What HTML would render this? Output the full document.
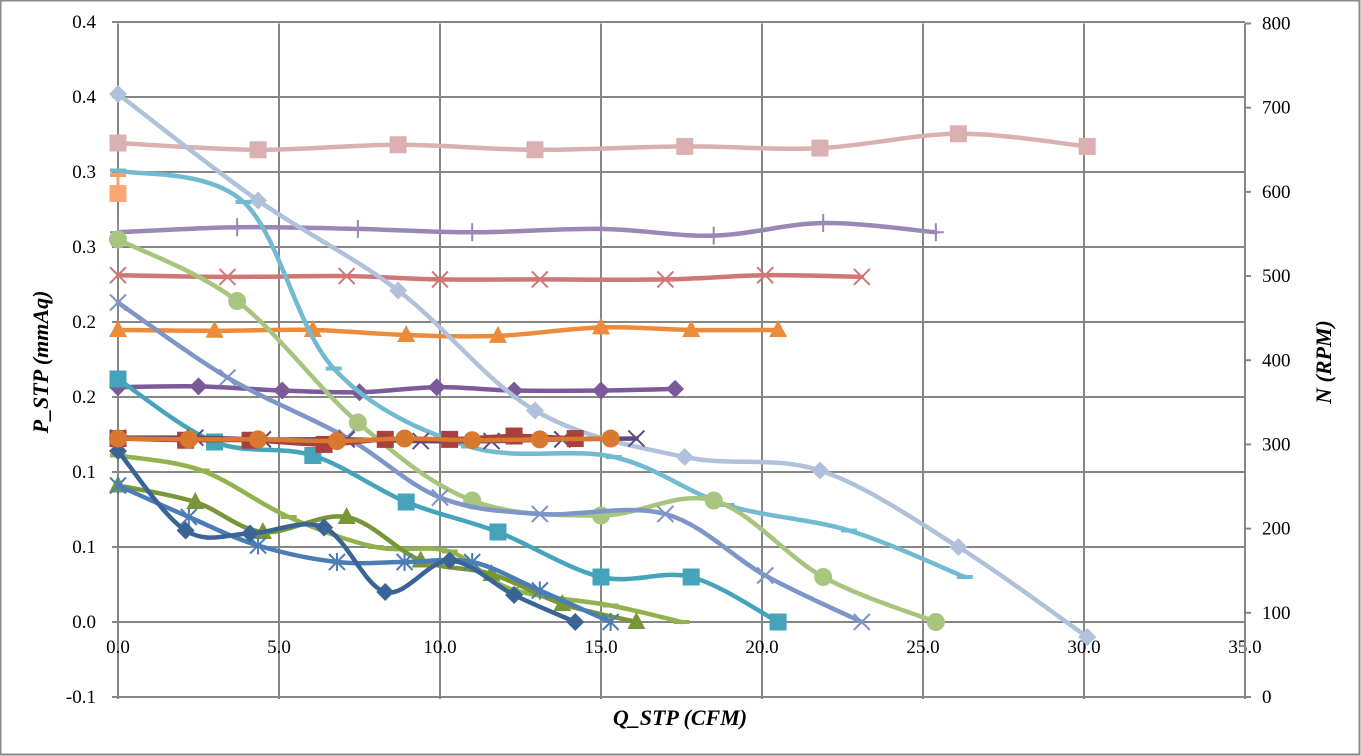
<!DOCTYPE html>
<html><head><meta charset="utf-8"><style>
html,body{margin:0;padding:0;background:#fff;}
svg{display:block;}
text{font-family:"Liberation Serif",serif;}
</style></head><body>
<svg id="chart" width="1361" height="756" xmlns="http://www.w3.org/2000/svg">
<rect x="0.5" y="0.5" width="1359" height="754" fill="#fff" stroke="#888" stroke-width="2"/>
<g id="grid"></g>
<g id="axes"></g>
<g id="series"></g>
<text x="680" y="725" text-anchor="middle" font-size="22" font-weight="bold" font-style="italic">Q_STP (CFM)</text>
<text transform="translate(48,362) rotate(-90)" text-anchor="middle" font-size="22" font-weight="bold" font-style="italic">P_STP (mmAq)</text>
<text transform="translate(1331,362) rotate(-90)" text-anchor="middle" font-size="22" font-weight="bold" font-style="italic">N (RPM)</text>
</svg>
<script>
const xTicks=[0,5,10,15,20,25,30,35];
const xTickLabels=["0.0","5.0","10.0","15.0","20.0","25.0","30.0","35.0"];
const yTicks=[0.4,0.35,0.3,0.25,0.2,0.15,0.1,0.05,0,-0.05];
const yTickLabels=["0.4","0.4","0.3","0.3","0.2","0.2","0.1","0.1","0.0","-0.1"];
const y2Ticks=[800,700,600,500,400,300,200,100,0];

// pressure series (left axis)
const qSteel=[0,4.35,8.7,12.95,17.6,21.8,26.1,30.1];
const pSteel=[0.352,0.281,0.221,0.141,0.110,0.101,0.050,-0.010];
const qCyan=[0,3.9,6.7,10.9,15.4,18.9,22.7,26.3];
const pCyan=[0.301,0.280,0.169,0.117,0.110,0.078,0.061,0.030];
const qGreen=[0,3.7,7.45,11,15,18.5,21.9,25.4];
const pGreen=[0.255,0.214,0.133,0.081,0.071,0.081,0.030,0];
const qBlueX=[0,3.4,7.1,10,13.1,17,20.1,23.1];
const pBlueX=[0.213,0.163,0.123,0.083,0.072,0.072,0.031,0];
const qTeal=[0,3,6.05,8.95,11.8,15,17.8,20.5];
const pTeal=[0.162,0.12,0.111,0.08,0.06,0.03,0.03,0];
const qNavy=[0,2.1,4.1,6.4,8.3,10.3,12.3,14.2];
const pNavy=[0.114,0.061,0.059,0.063,0.02,0.041,0.018,0];
const qOlive=[0,2.4,4.5,7.1,9.4,11.6,13.8,16.1];
const pOlive=[0.091,0.080,0.060,0.070,0.041,0.032,0.012,0];
const qLime=[0,2.6,5.3,8.0,10.3,12.2,15.3,17.5];
const pLime=[0.111,0.101,0.070,0.050,0.047,0.022,0.011,0];
const qStar=[0,2.2,4.35,6.8,8.9,11,13.1,15.3];
const pStar=[0.091,0.070,0.051,0.040,0.040,0.040,0.021,0];

// speed series (right axis)
const nPink=[658,650,656,650,654,652,669,654];
const nPlus=[552,558,556,552,556,548,563,552];
const nAst=[501,499,500,496,496,496,501,499];
const nTri=[436,435,436,430,429,439,436,436];
const qPurp=[0,2.5,5.1,7.5,9.9,12.3,15.0,17.3];
const nPurp=[368,369,364,362,368,364,364,366];
const nRedSq=[307,305,305,300,306,306,310,307];
const nOrCirc=[307,306,306,304,307,305,306,307];
const nDarkX=[308,308,306,306,304,304,306,307];
const qOrange=[0,0];
const nOrange=[620,598];

const X0=118,X1=1245,YT=23.5,YB=697;
const sx=q=>X0+(q/35)*(X1-X0);
const syL=p=>622-p*1500;
const syR=n=>YB-(n/800)*(YB-YT);
const NS="http://www.w3.org/2000/svg";
function mk(tag,attrs,parent){const e=document.createElementNS(NS,tag);for(const k in attrs)e.setAttribute(k,attrs[k]);parent.appendChild(e);return e;}

const grid=document.getElementById('grid'),axes=document.getElementById('axes'),ser=document.getElementById('series');
yTicks.forEach((v,i)=>{
  const y=syL(v);
  const l=mk('line',{x1:112,x2:X1,y1:y,y2:y,stroke:'#868686','stroke-width':2},grid);
  
  
  const t=mk('text',{x:96,y:y+6,'text-anchor':'end','font-size':19},axes);
  t.textContent=yTickLabels[i];
  
  
});
xTicks.forEach((v,i)=>{
  const x=sx(v);
  const l=mk('line',{x1:x,x2:x,y1:YT,y2:YB+2,stroke:'#868686','stroke-width':2},grid);
  
  
  const t=mk('text',{x:x,y:653,'text-anchor':'middle','font-size':19},axes);
  t.textContent=xTickLabels[i];
  
  
});
y2Ticks.forEach(v=>{
  const y=syR(v);
  const l=mk('line',{x1:X1,x2:X1+6,y1:y,y2:y,stroke:'#868686','stroke-width':2},axes);
  
  
  const t=mk('text',{x:1262,y:y+6,'font-size':19},axes);
  t.textContent=String(v);
  
  
});
const ax=mk('line',{x1:X1,x2:X1,y1:YT,y2:YB+2,stroke:'#868686','stroke-width':2},axes);



function smoothPath(pts){
  let d=`M${pts[0][0]},${pts[0][1]}`;
  for(let i=0;i<pts.length-1;i++){
    const p0=pts[i-1]||pts[i],p1=pts[i],p2=pts[i+1],p3=pts[i+2]||p2;
    const c1=[p1[0]+(p2[0]-p0[0])/6,p1[1]+(p2[1]-p0[1])/6];
    const c2=[p2[0]-(p3[0]-p1[0])/6,p2[1]-(p3[1]-p1[1])/6];
    d+=` C${c1[0]},${c1[1]} ${c2[0]},${c2[1]} ${p2[0]},${p2[1]}`;
  }
  return d;
}
function marker(type,x,y,color,g){
  let e;
  if(type==='sq') e=mk('rect',{x:x-8.5,y:y-8.5,width:17,height:17,fill:color},g);
  else if(type==='dia') e=mk('path',{d:`M${x},${y-9} L${x+9},${y} L${x},${y+9} L${x-9},${y}Z`,fill:color},g);
  else if(type==='circ') e=mk('circle',{cx:x,cy:y,r:9,fill:color},g);
  else if(type==='tri') e=mk('path',{d:`M${x},${y-10} L${x+9},${y+7} L${x-9},${y+7}Z`,fill:color},g);
  else if(type==='x') e=mk('path',{d:`M${x-8},${y-8}L${x+8},${y+8}M${x-8},${y+8}L${x+8},${y-8}`,stroke:color,'stroke-width':2},g);
  else if(type==='star') e=mk('path',{d:`M${x-8},${y-8}L${x+8},${y+8}M${x-8},${y+8}L${x+8},${y-8}M${x},${y-9}L${x},${y+9}`,stroke:color,'stroke-width':2},g);
  else if(type==='plus') e=mk('path',{d:`M${x-8},${y}L${x+8},${y}M${x},${y-9}L${x},${y+9}`,stroke:color,'stroke-width':2},g);
  else if(type==='dash') e=mk('path',{d:`M${x-8},${y}L${x+8},${y}`,stroke:color,'stroke-width':4},g);
  
  
}
function series(name,qs,vs,sy,color,mtype){
  const g=mk('g',{},ser);
  
  
  const pts=qs.map((q,i)=>[sx(q),sy(vs[i])]);
  const p=mk('path',{d:smoothPath(pts),fill:'none',stroke:color,'stroke-width':4.5,'stroke-linejoin':'round','stroke-linecap':'round'},g);
  
  
  pts.forEach(pt=>marker(mtype,pt[0],pt[1],color,g));
}
// RPM lines
series('rpm-pink',qSteel,nPink,syR,'#DBB0B0','sq');
series('rpm-lavender',qGreen,nPlus,syR,'#9A87B6','plus');
series('rpm-salmon',qBlueX,nAst,syR,'#CF7676','x');
series('rpm-orange',qTeal,nTri,syR,'#EC8B3B','tri');
series('rpm-purple',qPurp,nPurp,syR,'#7C5A9A','dia');
// pressure lines
series('p-steel',qSteel,pSteel,syL,'#B0C1DC','dia');
series('p-cyan',qCyan,pCyan,syL,'#71BACF','dash');
series('p-green',qGreen,pGreen,syL,'#A8C57F','circ');
series('p-bluex',qBlueX,pBlueX,syL,'#7E95C7','x');
series('p-teal',qTeal,pTeal,syL,'#45A3BA','sq');
series('p-lime',qLime,pLime,syL,'#93B24E','dash');
series('p-olive',qOlive,pOlive,syL,'#789637','tri');
series('p-star',qStar,pStar,syL,'#4A7DB5','star');
series('p-navy',qNavy,pNavy,syL,'#3B6496','dia');
series('rpm-darkx',qOlive,nDarkX,syR,'#604A7B','x');
series('rpm-redsq',qNavy,nRedSq,syR,'#A8403E','sq');
series('rpm-orcirc',qStar,nOrCirc,syR,'#D9782F','circ');
// single-point orange pair
(function(){
  const g=mk('g',{},ser);
  
  
  const x=sx(qOrange[0]);
  mk('line',{x1:x,x2:x,y1:syR(nOrange[0]),y2:syR(nOrange[1]),stroke:'#F5A26A','stroke-width':3},g);
  marker('dash',x,syR(nOrange[0]),'#F5A26A',g);
  marker('sq',sx(qOrange[1]),syR(nOrange[1]),'#F8A877',g);
})();
</script>
</body></html>
